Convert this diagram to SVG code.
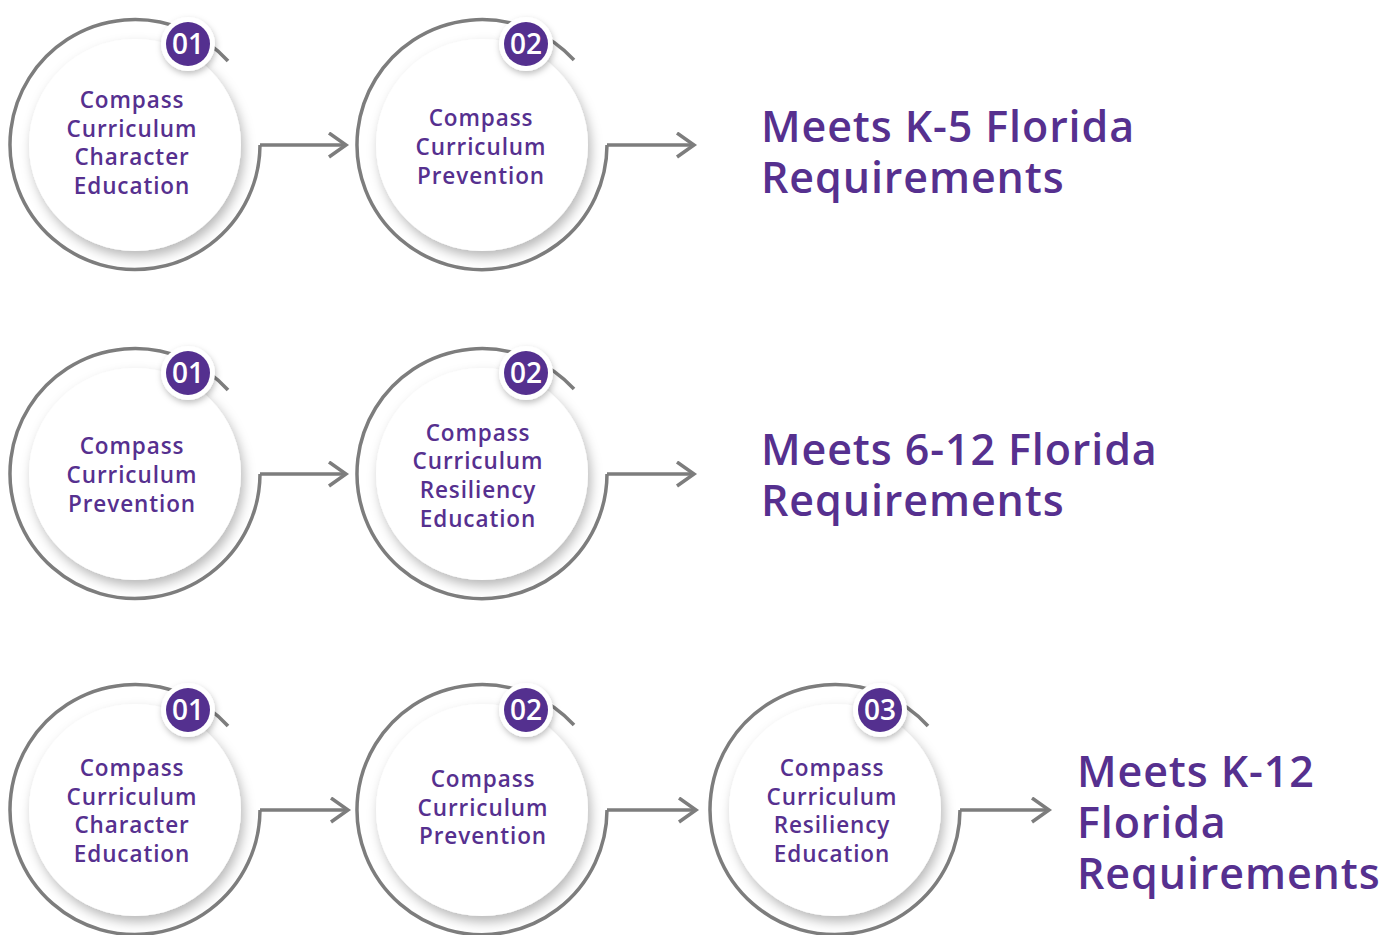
<svg xmlns="http://www.w3.org/2000/svg" width="1392" height="935" viewBox="0 0 1392 935">
<defs>
<style>
.ring{fill:none;stroke:#7d7d7d;stroke-width:3.5}
.inner{fill:#ffffff;filter:url(#sh)}
.bo{fill:#ffffff;filter:url(#sh2)}
.bi{fill:#54308f}
.num{font-family:"Open Sans","Liberation Sans",sans-serif;font-weight:600;font-size:28px;fill:#ffffff;text-anchor:middle}
.lbl{font-family:"Open Sans","Liberation Sans",sans-serif;font-weight:600;font-size:22.5px;fill:#56308f;text-anchor:middle;letter-spacing:0.9px}
.big{font-family:"Open Sans","Liberation Sans",sans-serif;font-weight:600;font-size:43px;fill:#56308f;letter-spacing:0.9px}
.con{fill:none;stroke:#7d7d7d;stroke-width:3.5;marker-end:url(#ah)}
</style>
<filter id="sh" x="-20%" y="-20%" width="140%" height="140%">
<feDropShadow dx="3" dy="6" stdDeviation="6" flood-color="#000" flood-opacity="0.28"/>
</filter>
<filter id="sh2" x="-40%" y="-40%" width="180%" height="180%">
<feDropShadow dx="1" dy="3" stdDeviation="3" flood-color="#000" flood-opacity="0.25"/>
</filter>
<marker id="ah" markerUnits="userSpaceOnUse" markerWidth="24" markerHeight="30" refX="19" refY="13" orient="auto">
<path d="M2,1 L19,13 L2,25" fill="none" stroke="#7d7d7d" stroke-width="3.5"/>
</marker>
</defs>
<rect width="1392" height="935" fill="#ffffff"/>

<g id="connectors">
<path class="con" d="M260,145 H346"/>
<path class="con" d="M607,145 H694"/>
<path class="con" d="M260,474 H346"/>
<path class="con" d="M607,474 H694"/>
<path class="con" d="M260,810 H348"/>
<path class="con" d="M607,810 H696"/>
<path class="con" d="M960,810 H1049"/>
</g>

<!-- Row 1 -->
<g id="r1n1">
<path class="ring" d="M228,61 A125,125 0 1 0 260,145"/>
<circle class="inner" cx="135" cy="145" r="106"/>
<circle class="bo" cx="188" cy="44" r="27"/>
<circle class="bi" cx="188" cy="44" r="22"/>
<text class="num" x="188" y="54">01</text>
<text class="lbl" x="132" y="108">Compass</text>
<text class="lbl" x="132" y="137">Curriculum</text>
<text class="lbl" x="132" y="165">Character</text>
<text class="lbl" x="132" y="194">Education</text>
</g>
<g id="r1n2">
<path class="ring" d="M574,60 A125,125 0 1 0 607,145"/>
<circle class="inner" cx="482" cy="145" r="106"/>
<circle class="bo" cx="526" cy="44" r="27"/>
<circle class="bi" cx="526" cy="44" r="22"/>
<text class="num" x="526" y="54">02</text>
<text class="lbl" x="481" y="126">Compass</text>
<text class="lbl" x="481" y="155">Curriculum</text>
<text class="lbl" x="481" y="184">Prevention</text>
</g>
<g id="r1out">
<text class="big" x="761" y="142">Meets K-5 Florida</text>
<text class="big" x="761" y="193">Requirements</text>
</g>

<!-- Row 2 -->
<g id="r2n1">
<path class="ring" d="M228,390 A125,125 0 1 0 260,474"/>
<circle class="inner" cx="135" cy="474" r="106"/>
<circle class="bo" cx="188" cy="373" r="27"/>
<circle class="bi" cx="188" cy="373" r="22"/>
<text class="num" x="188" y="383">01</text>
<text class="lbl" x="132" y="454">Compass</text>
<text class="lbl" x="132" y="483">Curriculum</text>
<text class="lbl" x="132" y="512">Prevention</text>
</g>
<g id="r2n2">
<path class="ring" d="M574,389 A125,125 0 1 0 607,474"/>
<circle class="inner" cx="482" cy="474" r="106"/>
<circle class="bo" cx="526" cy="373" r="27"/>
<circle class="bi" cx="526" cy="373" r="22"/>
<text class="num" x="526" y="383">02</text>
<text class="lbl" x="478" y="441">Compass</text>
<text class="lbl" x="478" y="469">Curriculum</text>
<text class="lbl" x="478" y="498">Resiliency</text>
<text class="lbl" x="478" y="527">Education</text>
</g>
<g id="r2out">
<text class="big" x="761" y="465">Meets 6-12 Florida</text>
<text class="big" x="761" y="516">Requirements</text>
</g>

<!-- Row 3 -->
<g id="r3n1">
<path class="ring" d="M228,726 A125,125 0 1 0 260,810"/>
<circle class="inner" cx="135" cy="810" r="106"/>
<circle class="bo" cx="188" cy="710" r="27"/>
<circle class="bi" cx="188" cy="710" r="22"/>
<text class="num" x="188" y="720">01</text>
<text class="lbl" x="132" y="776">Compass</text>
<text class="lbl" x="132" y="805">Curriculum</text>
<text class="lbl" x="132" y="833">Character</text>
<text class="lbl" x="132" y="862">Education</text>
</g>
<g id="r3n2">
<path class="ring" d="M574,725 A125,125 0 1 0 607,810"/>
<circle class="inner" cx="482" cy="810" r="106"/>
<circle class="bo" cx="526" cy="710" r="27"/>
<circle class="bi" cx="526" cy="710" r="22"/>
<text class="num" x="526" y="720">02</text>
<text class="lbl" x="483" y="787">Compass</text>
<text class="lbl" x="483" y="816">Curriculum</text>
<text class="lbl" x="483" y="844">Prevention</text>
</g>
<g id="r3n3">
<path class="ring" d="M928,726 A125,125 0 1 0 960,810"/>
<circle class="inner" cx="835" cy="810" r="106"/>
<circle class="bo" cx="880" cy="710" r="27"/>
<circle class="bi" cx="880" cy="710" r="22"/>
<text class="num" x="880" y="720">03</text>
<text class="lbl" x="832" y="776">Compass</text>
<text class="lbl" x="832" y="805">Curriculum</text>
<text class="lbl" x="832" y="833">Resiliency</text>
<text class="lbl" x="832" y="862">Education</text>
</g>
<g id="r3out">
<text class="big" x="1077" y="787">Meets K-12</text>
<text class="big" x="1077" y="838">Florida</text>
<text class="big" x="1077" y="889">Requirements</text>
</g>
</svg>
